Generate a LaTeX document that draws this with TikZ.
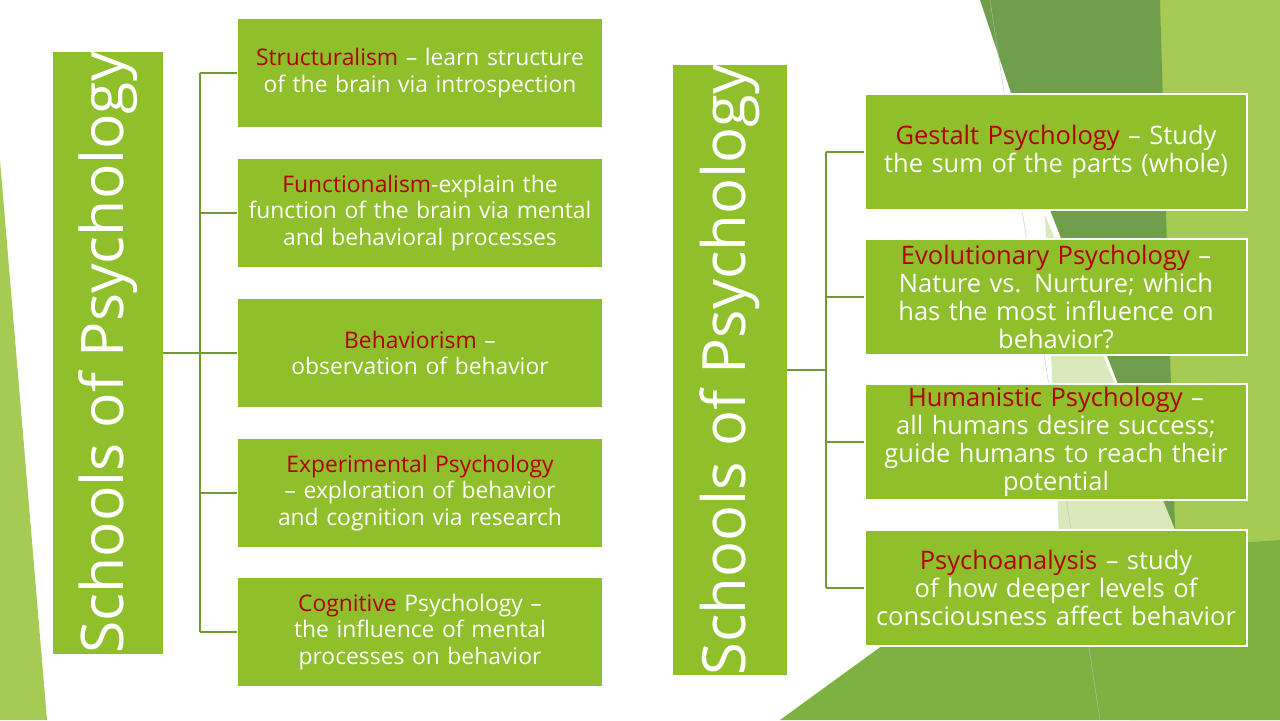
\documentclass[tikz,border=0pt]{standalone}
\usepackage{fontspec}
\setmainfont{Open Sans}
\definecolor{leaf}{HTML}{8FBF2A}
\definecolor{lineg}{HTML}{6E9A2E}
\definecolor{redt}{HTML}{B00000}
\definecolor{bgdark}{HTML}{6F9E4C}
\definecolor{bgmid}{HTML}{7DB243}
\definecolor{bglight}{HTML}{A5CB55}
\definecolor{bgpale}{HTML}{D9E9BC}
\tikzset{
  item/.style={rectangle, fill=leaf, draw=white, line width=1pt, text=white, align=center,
    minimum width=7.3cm, minimum height=2.18cm, text width=7.2cm, inner sep=1pt,
    font=\fontsize{13}{15}\selectfont},
  itemr/.style={item, minimum width=7.64cm, minimum height=2.32cm, text width=7.5cm,
    font=\fontsize{14.5}{16}\selectfont},
  title/.style={rectangle, fill=leaf, text=white, rotate=90, inner sep=0pt},
  link/.style={draw=lineg, line width=1pt},
}
\newcommand{\hl}[1]{\textcolor{redt}{#1}}
\begin{document}
\hyphenpenalty=10000
\begin{tikzpicture}[x=0.02cm, y=-0.02cm]
  \useasboundingbox (0,0) rectangle (1280,720);
  % Background
  \fill[bglight] (1160,0) -- (1280,0) -- (1280,720) -- (1130,720) -- cycle;
  \fill[bgdark] (980,0) -- (1160,0) -- (1175,530) -- (1050,210) -- cycle;
  \fill[bgpale] (1045,215) -- (1175,530) -- (1060,560) -- cycle;
  \fill[bgmid] (780,720) -- (1000,560) -- (1280,540) -- (1280,720) -- cycle;
  \fill[bglight] (0,160) -- (47,720) -- (0,720) -- cycle;
  \draw[gray!50, very thin] (990,0) -- (1100,720);
  % Left title
  \node (titleL) [title, minimum width=11.7cm, minimum height=2.2cm,
    font=\fontsize{33.5}{40}\selectfont] at (108,353) {Schools of Psychology};
  % Left items
  \node (s1) [item] at (420,73) {\hl{Structuralism} -- learn structure of the brain via introspection};
  \node (s2) [item] at (420,213) {\hl{Functionalism}-explain the function of the brain via mental and behavioral processes};
  \node (s3) [item] at (420,353) {\hl{Behaviorism} -- observation of behavior};
  \node (s4) [item] at (420,493) {\hl{Experimental Psychology} -- exploration of behavior and cognition via research};
  \node (s5) [item] at (420,632) {\hl{Cognitive} Psychology -- the influence of mental processes on behavior};
  % Left links
  \coordinate (trunkL) at (200,353);
  \draw[link] (titleL.south) -- (trunkL);
  \draw[link] (200,73) -- (200,632);
  \foreach \n in {s1,s2,s3,s4,s5}
    \draw[link] (\n.west) -- (200,0 |- \n.west);
  % Right title
  \node (titleR) [title, minimum width=12.2cm, minimum height=2.28cm,
    font=\fontsize{34}{40}\selectfont] at (730,370) {Schools of Psychology};
  % Right items
  \node (r1) [itemr] at (1056,152) {\hl{Gestalt Psychology} -- Study the sum of the parts (whole)};
  \node (r2) [itemr] at (1056,297) {\hl{Evolutionary Psychology} -- Nature vs. Nurture; which has the most influence on\\ behavior?};
  \node (r3) [itemr] at (1056,442) {\hl{Humanistic Psychology} -- all humans desire success; guide humans to reach their\\ potential};
  \node (r4) [itemr] at (1056,588) {\hl{Psychoanalysis} -- study of how deeper levels of consciousness affect behavior};
  % Right links
  \coordinate (trunkR) at (826,370);
  \draw[link] (titleR.south) -- (trunkR);
  \draw[link] (826,152) -- (826,588);
  \foreach \n in {r1,r2,r3,r4}
    \draw[link] (\n.west) -- (826,0 |- \n.west);
\end{tikzpicture}
\end{document}
